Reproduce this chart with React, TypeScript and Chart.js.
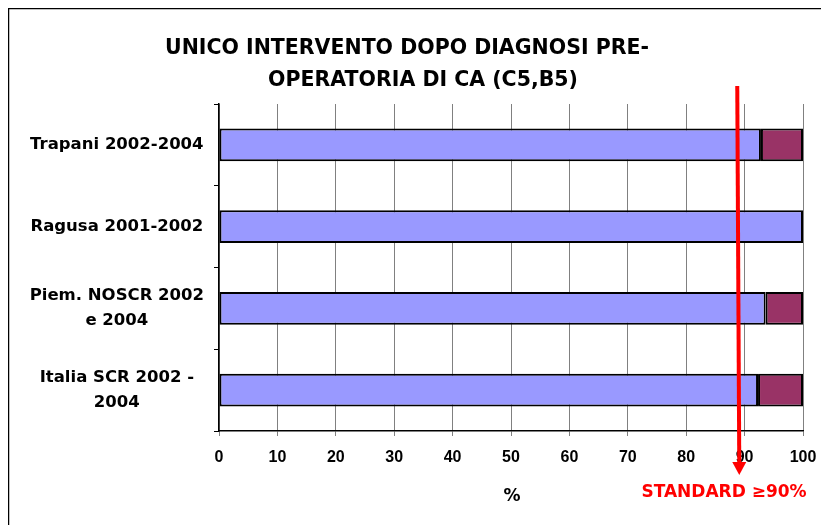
import React, { useEffect, useRef } from "react";
import { Chart, registerables } from "chart.js";

Chart.register(...registerables);

const titleLines = ["UNICO INTERVENTO DOPO DIAGNOSI PRE-", "OPERATORIA DI CA (C5,B5)"];
const categories = [
  ["Trapani 2002-2004"],
  ["Ragusa 2001-2002"],
  ["Piem. NOSCR 2002", "e 2004"],
  ["Italia SCR 2002 -", "2004"],
];
const singleIntervention = [92.8, 100, 93.6, 92.3];
const multipleIntervention = [7.2, 0, 6.4, 7.7];
const xMin = 0;
const xMax = 100;
const xStep = 10;
const xAxisTitle = "%";
const standardArrowValue = 89;
const standardLabel = "STANDARD \u226590%";

const COMIC = "'DejaVu Sans', sans-serif";
const ARIAL = "'Liberation Sans', Arial, sans-serif";

const decorPlugin = {
  id: "decor",
  afterDraw(chart: any) {
    const ctx = chart.ctx;
    const x = chart.scales.x;
    const area = chart.chartArea;
    ctx.save();
    // outer border (left + top)
    ctx.strokeStyle = "#000";
    ctx.lineWidth = 1.5;
    ctx.beginPath();
    ctx.moveTo(0.5, chart.height);
    ctx.lineTo(0.5, 0.5);
    ctx.lineTo(chart.width, 0.5);
    ctx.stroke();
    // title
    ctx.fillStyle = "#000";
    ctx.font = `bold 20.5px ${COMIC}`;
    ctx.textAlign = "center";
    ctx.textBaseline = "middle";
    ctx.fillText(titleLines[0], 399, 41);
    ctx.fillText(titleLines[1], 415, 73);
    // axis title
    ctx.font = `bold 17px ${COMIC}`;
    ctx.fillText(xAxisTitle, (area.left + area.right) / 2 + 1, 489);
    // standard arrow
    const ax = x.getPixelForValue(standardArrowValue);
    ctx.strokeStyle = "#FF0000";
    ctx.fillStyle = "#FF0000";
    ctx.lineWidth = 4;
    ctx.beginPath();
    ctx.moveTo(ax - 1.5, 78);
    ctx.lineTo(ax + 0.5, 456);
    ctx.stroke();
    ctx.beginPath();
    ctx.moveTo(ax - 6.5, 454);
    ctx.lineTo(ax + 7.5, 454);
    ctx.lineTo(ax + 0.5, 467);
    ctx.closePath();
    ctx.fill();
    ctx.font = `bold 17px ${COMIC}`;
    ctx.fillText(standardLabel, 716, 485);
    ctx.restore();
  },
};

export default function App() {
  const ref = useRef<HTMLCanvasElement>(null);
  useEffect(() => {
    if (!ref.current) return;
    const chart = new Chart(ref.current, {
      type: "bar",
      data: {
        labels: categories as any,
        datasets: [
          {
            data: singleIntervention,
            backgroundColor: "#9999FF",
            borderColor: "#000",
            borderWidth: 2,
            borderSkipped: false,
            categoryPercentage: 1,
            barPercentage: 0.4,
          },
          {
            data: multipleIntervention,
            backgroundColor: "#993366",
            borderColor: "#000",
            borderWidth: 2,
            borderSkipped: false,
            categoryPercentage: 1,
            barPercentage: 0.4,
          },
        ],
      },
      options: {
        indexAxis: "y",
        animation: false,
        responsive: false,
        maintainAspectRatio: false,
        layout: { padding: { top: 96, right: 26, left: 0, bottom: 0 } },
        plugins: { legend: { display: false }, tooltip: { enabled: false }, title: { display: false } },
        scales: {
          x: {
            stacked: true,
            min: xMin,
            max: xMax,
            ticks: {
              stepSize: xStep,
              color: "#000",
              font: { family: ARIAL, size: 16, weight: "bold" },
              padding: 12,
              maxRotation: 0,
            },
            grid: { color: "#808080", lineWidth: 1, tickLength: 5 },
            border: { color: "#000", width: 1.5 },
            afterFit: (s: any) => {
              s.height = 94;
            },
          },
          y: {
            stacked: true,
            ticks: {
              color: "#000",
              font: { family: COMIC, size: 16.5, weight: "bold", lineHeight: 1.55 },
              padding: 10,
              crossAlign: "center",
            },
            grid: { drawOnChartArea: false, drawTicks: true, tickLength: 5, color: "#000", offset: true },
            border: { color: "#000", width: 1.5 },
            afterFit: (s: any) => {
              s.width = 211;
            },
          },
        },
      } as any,
      plugins: [decorPlugin],
    });
    return () => chart.destroy();
  }, []);
  return (
    <div style={{ width: 821, height: 517 }}>
      <canvas ref={ref} width={821} height={517} style={{ display: "block" }} />
    </div>
  );
}
